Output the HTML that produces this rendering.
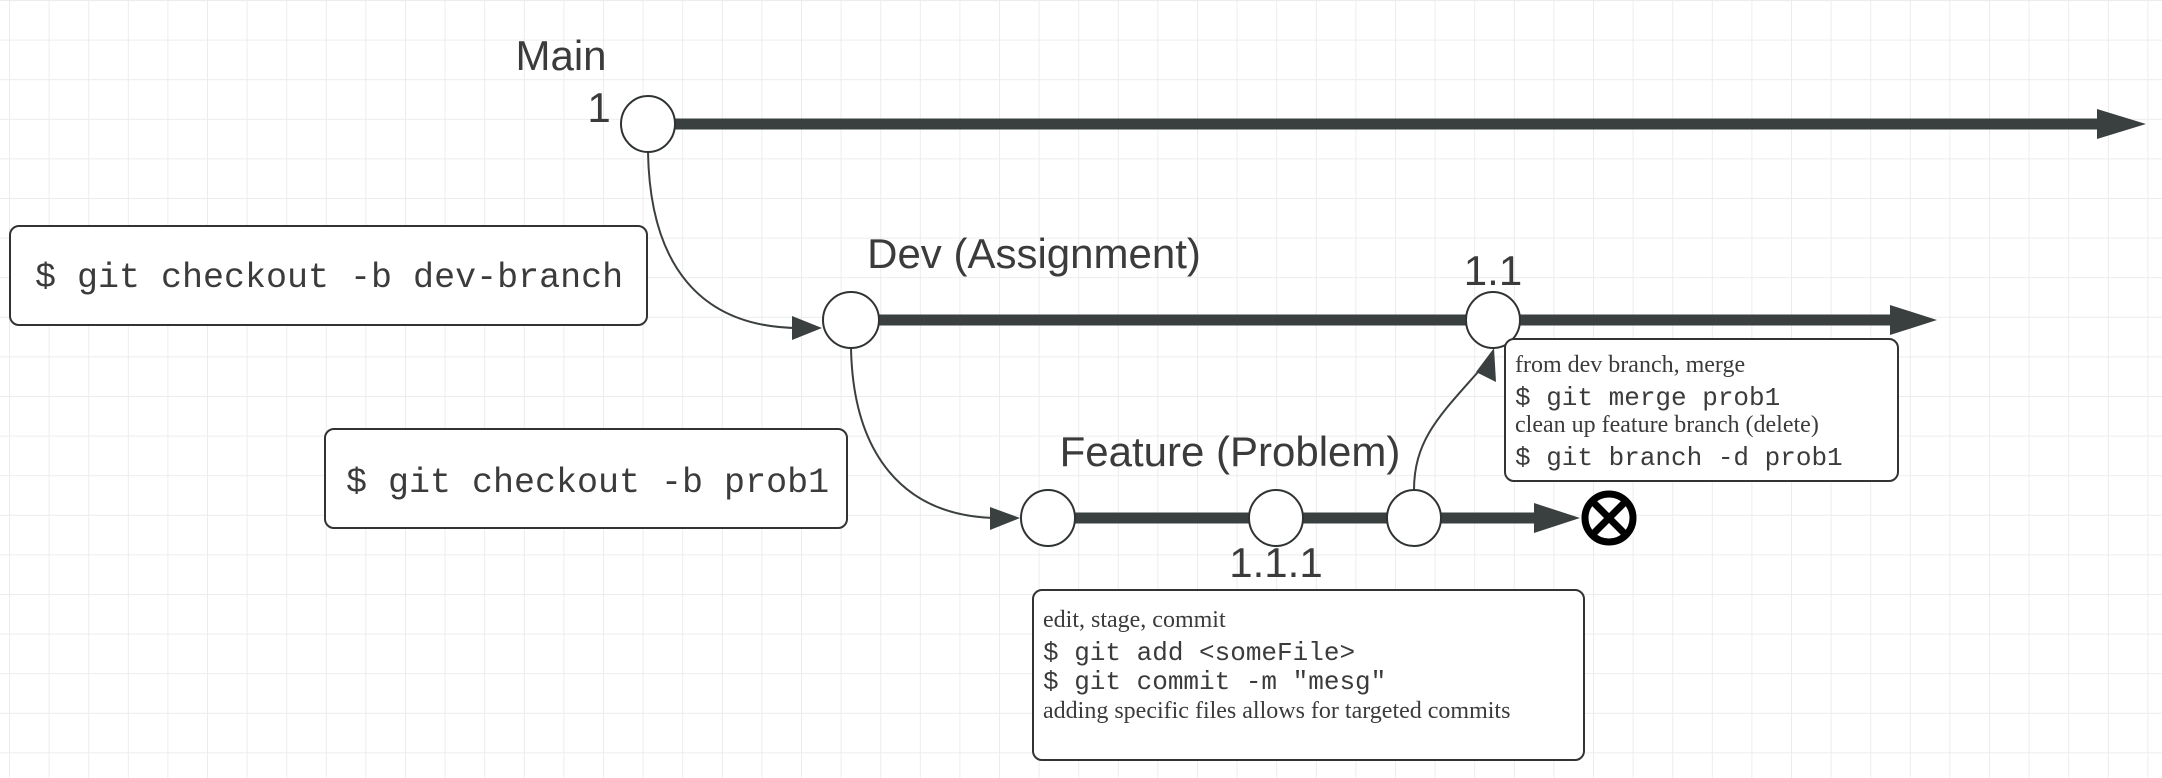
<!DOCTYPE html>
<html><head><meta charset="utf-8"><style>
html,body{margin:0;padding:0;background:#fff;}
svg{display:block;}
.s{font-family:"Liberation Sans",sans-serif;fill:#3b3b3b;}
.m{font-family:"Liberation Mono",monospace;fill:#3b3b3b;}
.r{font-family:"Liberation Serif",serif;fill:#3b3b3b;}
</style></head><body>
<svg width="2162" height="778" viewBox="0 0 2162 778" xmlns="http://www.w3.org/2000/svg">
<defs>
<pattern id="g" width="39.6" height="39.6" patternUnits="userSpaceOnUse" x="9" y="0">
<path d="M0 0H39.6M0 0V39.6" stroke="#ececec" stroke-width="2" fill="none"/>
</pattern>
</defs>
<rect width="2162" height="778" fill="url(#g)"/>
<g fill="none" stroke="#3a3f3f">
<!-- thick branch lines -->
<line x1="675" y1="124" x2="2100" y2="124" stroke-width="11"/>
<line x1="879" y1="320" x2="1894" y2="320" stroke-width="11"/>
<line x1="1075" y1="518" x2="1538" y2="518" stroke-width="11"/>
<!-- curves -->
<path d="M648,152 C650,265 700,328 800,328" stroke-width="2"/>
<path d="M851,348 C853,450 900,518 1000,518" stroke-width="2"/>
<path d="M1414,490 C1414,440 1440,415 1478,372" stroke-width="2"/>
</g>
<g fill="#3a3f3f">
<polygon points="2097,109 2146,124 2097,139"/>
<polygon points="1890,305 1937,320 1890,335"/>
<polygon points="1534,503 1580,518 1534,533"/>
<polygon points="792,316 822,328 792,340"/>
<polygon points="990,507 1020,518 990,530"/>
<polygon points="1494,348 1496,382 1476,372"/>
</g>
<g fill="#fff" stroke="#2f3333" stroke-width="2">
<ellipse cx="648" cy="124" rx="27" ry="28"/>
<ellipse cx="851" cy="320" rx="28" ry="28"/>
<ellipse cx="1493" cy="320" rx="27" ry="28"/>
<ellipse cx="1048" cy="518" rx="27" ry="28"/>
<ellipse cx="1276" cy="518" rx="27" ry="28"/>
<ellipse cx="1414" cy="518" rx="27" ry="28"/>
</g>
<circle cx="1609" cy="518" r="24" fill="#fff" stroke="#000" stroke-width="7"/>
<path d="M1592,501 L1626,535 M1626,501 L1592,535" stroke="#000" stroke-width="7"/>
<!-- boxes -->
<g fill="#fff" stroke="#333" stroke-width="2">
<rect x="10" y="226" width="637" height="99" rx="9"/>
<rect x="325" y="429" width="522" height="99" rx="9"/>
<rect x="1505" y="339" width="393" height="142" rx="9"/>
<rect x="1033" y="590" width="551" height="170" rx="9"/>
</g>
<text class="s" x="561" y="70" font-size="42" text-anchor="middle">Main</text>
<text class="s" x="599" y="122" font-size="42" text-anchor="middle">1</text>
<text class="s" x="1034" y="268" font-size="42" text-anchor="middle">Dev (Assignment)</text>
<text class="s" x="1493" y="285" font-size="42" text-anchor="middle">1.1</text>
<text class="s" x="1230" y="466" font-size="42" text-anchor="middle">Feature (Problem)</text>
<text class="s" x="1276" y="577" font-size="42" text-anchor="middle">1.1.1</text>
<text class="m" x="35" y="287" font-size="35">$ git checkout -b dev-branch</text>
<text class="m" x="346" y="492" font-size="35">$ git checkout -b prob1</text>
<text class="r" x="1515" y="372" font-size="24">from dev branch, merge</text>
<text class="m" x="1515" y="405" font-size="26">$ git merge prob1</text>
<text class="r" x="1515" y="432" font-size="24">clean up feature branch (delete)</text>
<text class="m" x="1515" y="465" font-size="26">$ git branch -d prob1</text>
<text class="r" x="1043" y="627" font-size="24">edit, stage, commit</text>
<text class="m" x="1043" y="660" font-size="26">$ git add &lt;someFile&gt;</text>
<text class="m" x="1043" y="689" font-size="26">$ git commit -m "mesg"</text>
<text class="r" x="1043" y="718" font-size="24">adding specific files allows for targeted commits</text>
</svg>
</body></html>
